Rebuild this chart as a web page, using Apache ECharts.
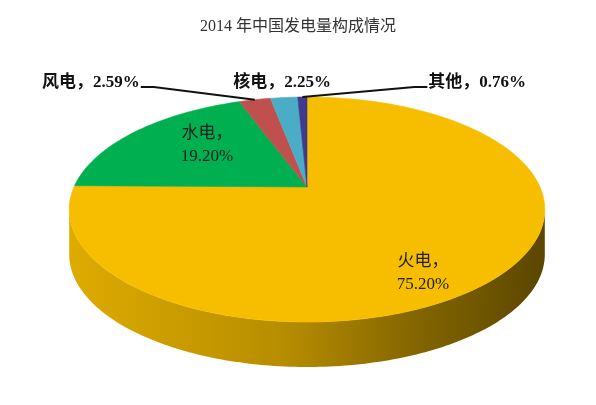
<!DOCTYPE html>
<html>
<head>
<meta charset="utf-8">
<script src="https://cdn.jsdelivr.net/npm/echarts@6/dist/echarts.min.js"></script>
<style>html,body{margin:0;padding:0;background:#fff}#chart{width:596px;height:405px}</style>
</head>
<body>
<div id="chart"></div>
<script>
// ---- data ----
const titleText = '2014 年中国发电量构成情况';
const categories = ['火电', '水电', '风电', '核电', '其他'];
const shares = [75.20, 19.20, 2.59, 2.25, 0.76];

// ---- styles / layout (not data) ----
const sliceColors = ['#F7BE00', '#00B050', '#C0504D', '#4BACC6', '#3F3A8F'];
const PIE = { cx: 307, cy: 187, R: 233, H: 108, a: 0.2, depth: 45 };
const insideLabel = { '火电': { r: 0.81, dAngle: -12.6 }, '水电': { r: 0.63, dAngle: -7 } };
const outsideLabel = {
  '风电': { dx: -115, align: 'right', line: true },
  '核电': { dx: -2, align: 'center', line: false },
  '其他': { dx: 126, align: 'left', line: true }
};
const latinSerif = '"Liberation Serif", "DejaVu Serif", "Noto Sans CJK SC"';

function proj(u, v) {
  const w = 1 + PIE.a * v;
  return [PIE.cx + PIE.R * u / w, PIE.cy - PIE.H * v / w];
}
function shade(hex, f) {
  const n = parseInt(hex.slice(1), 16);
  const r = Math.round(((n >> 16) & 255) * f), g = Math.round(((n >> 8) & 255) * f), b = Math.round((n & 255) * f);
  return 'rgb(' + r + ',' + g + ',' + b + ')';
}
const total = shares.reduce((s, v) => s + v, 0);
const deg = Math.PI / 180;

function arcPts(t1, t2, r) {
  const pts = [];
  const n = Math.max(2, Math.ceil(Math.abs(t1 - t2)));
  for (let j = 0; j <= n; j++) {
    const t = (t1 + (t2 - t1) * j / n) * deg;
    pts.push(proj(r * Math.cos(t), r * Math.sin(t)));
  }
  return pts;
}

function renderItem(params, api) {
  const i = params.dataIndex;
  let before = 0;
  for (let k = 0; k < i; k++) before += shares[k];
  const t1 = 90 - before / total * 360;
  const t2 = 90 - (before + shares[i]) / total * 360;
  const color = sliceColors[i];
  const children = [];

  // top face
  const top = [proj(0, 0)].concat(arcPts(t1, t2, 1));
  children.push({ type: 'polygon', z2: 10, shape: { points: top },
    style: { fill: color, stroke: color, lineWidth: 0.6 } });

  // side face (front-visible portion)
  const tang = Math.asin(PIE.a) / deg;
  const lo = Math.max(t2, -180 + tang), hi = Math.min(t1, -tang);
  if (lo < hi) {
    const upper = arcPts(hi, lo, 1);
    const lower = upper.slice().reverse().map(p => [p[0], p[1] + PIE.depth]);
    const xw = PIE.R / Math.sqrt(1 - PIE.a * PIE.a);
    children.push({ type: 'polygon', z2: 5, shape: { points: upper.concat(lower) },
      style: { fill: { type: 'linear', global: true, x: PIE.cx - xw, y: 0, x2: PIE.cx + xw, y2: 0,
        colorStops: [
          { offset: 0, color: shade(color, 0.9) },
          { offset: 0.45, color: shade(color, 0.74) },
          { offset: 0.75, color: shade(color, 0.52) },
          { offset: 1, color: shade(color, 0.37) }] } } });
  }

  const name = categories[i];
  const pct = shares[i].toFixed(2) + '%';
  const mid = (t1 + t2) / 2;
  if (insideLabel[name]) {
    const L = insideLabel[name];
    const t = (mid + L.dAngle) * deg;
    const p = proj(L.r * Math.cos(t), L.r * Math.sin(t));
    children.push({ type: 'text', z2: 20, x: p[0], y: p[1],
      style: { text: name + '，\n' + pct, fill: '#1e1e1e', fontSize: 17, fontFamily: latinSerif,
        align: 'center', verticalAlign: 'middle', lineHeight: 23 } });
  } else {
    const L = outsideLabel[name];
    const t = mid * deg;
    const anchor = proj(Math.cos(t), Math.sin(t));
    const labelY = PIE.cy - PIE.H / (1 + PIE.a) - 14;
    const lx = anchor[0] + L.dx;
    children.push({ type: 'text', z2: 20, x: lx, y: labelY,
      style: { text: name + '，' + pct, fill: '#111', fontSize: 17, fontWeight: 'bold', fontFamily: latinSerif,
        align: L.align, verticalAlign: 'middle' } });
    if (L.line) {
      const s = L.align === 'right' ? 1 : -1;
      children.push({ type: 'polyline', z2: 15,
        shape: { points: [anchor, [lx + s * 14, labelY + 4], [lx + s * 1, labelY + 4]] },
        style: { stroke: '#111', lineWidth: 1.8, fill: null } });
    }
  }
  return { type: 'group', children: children };
}

const chart = echarts.init(document.getElementById('chart'), null, { renderer: 'canvas' });
chart.setOption({
  animation: false,
  backgroundColor: '#fff',
  title: { text: titleText, left: 'center', top: 14,
    textStyle: { fontSize: 16, fontWeight: 'normal', color: '#333', fontFamily: latinSerif } },
  series: [{
    type: 'custom',
    coordinateSystem: 'none',
    silent: true,
    data: categories.map((c, i) => ({ name: c, value: shares[i] })),
    renderItem: renderItem
  }]
});
</script>
</body>
</html>
